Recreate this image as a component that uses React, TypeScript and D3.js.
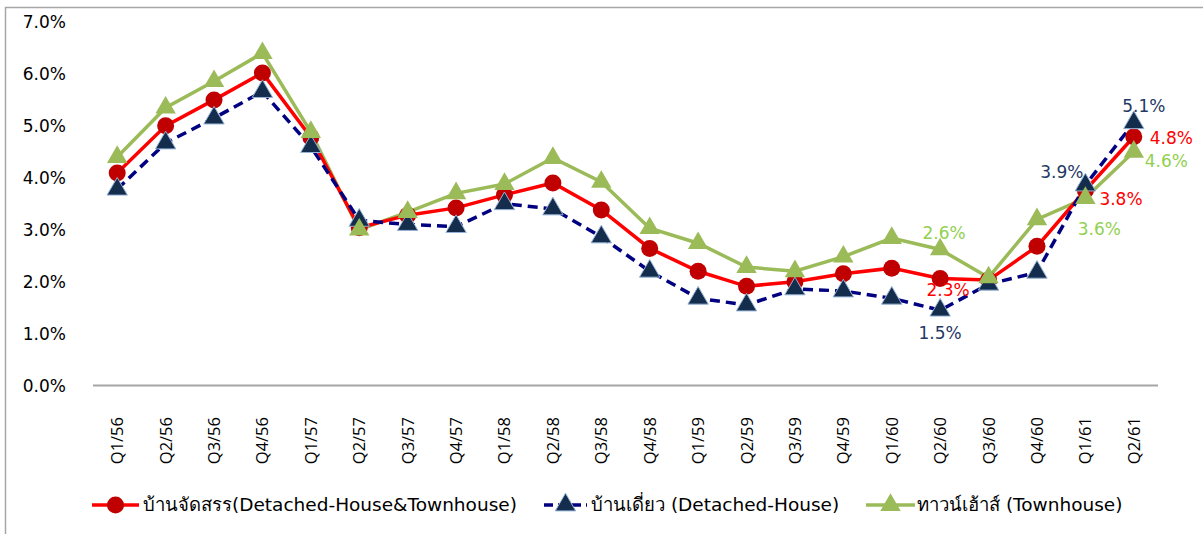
import * as d3 from "d3";
import { useEffect, useRef } from "react";

// quarters (Thai Buddhist year)
const quarters = [
  "Q1/56", "Q2/56", "Q3/56", "Q4/56",
  "Q1/57", "Q2/57", "Q3/57", "Q4/57",
  "Q1/58", "Q2/58", "Q3/58", "Q4/58",
  "Q1/59", "Q2/59", "Q3/59", "Q4/59",
  "Q1/60", "Q2/60", "Q3/60", "Q4/60",
  "Q1/61", "Q2/61",
];

// บ้านจัดสรร (all)
const allHousing = [
  4.09, 5.0, 5.5, 6.02, 4.78, 3.04, 3.28, 3.42, 3.67, 3.9, 3.38,
  2.64, 2.2, 1.91, 2.0, 2.15, 2.26, 2.06, 2.03, 2.68, 3.76, 4.79,
];
// บ้านเดี่ยว
const detached = [
  3.78, 4.67, 5.15, 5.66, 4.6, 3.18, 3.1, 3.06, 3.5, 3.4, 2.86,
  2.2, 1.68, 1.55, 1.86, 1.82, 1.68, 1.45, 1.95, 2.18, 3.86, 5.06,
];
// ทาวน์เฮ้าส์
const townhouse = [
  4.4, 5.35, 5.86, 6.4, 4.88, 3.0, 3.34, 3.7, 3.88, 4.38, 3.92,
  3.03, 2.74, 2.28, 2.2, 2.48, 2.84, 2.62, 2.08, 3.2, 3.61, 4.5,
];

const yTicks = [0, 1, 2, 3, 4, 5, 6, 7];

const seriesNames = [
  "บ้านจัดสรร(Detached-House&Townhouse)",
  "บ้านเดี่ยว (Detached-House)",
  "ทาวน์เฮ้าส์ (Townhouse)",
];

// data labels shown on the chart: [series, quarter index, text]
const dataLabels: [number, number, string][] = [
  [1, 21, "5.1%"],
  [0, 21, "4.8%"],
  [2, 21, "4.6%"],
  [1, 20, "3.9%"],
  [0, 20, "3.8%"],
  [2, 20, "3.6%"],
  [2, 17, "2.6%"],
  [0, 17, "2.3%"],
  [1, 17, "1.5%"],
];

export default function App() {
  const ref = useRef<SVGSVGElement | null>(null);

  useEffect(() => {
    const svg = d3.select(ref.current);
    svg.selectAll("*").remove();
    const font = "Tahoma, 'DejaVu Sans', sans-serif";

    // chart frame
    svg
      .append("rect")
      .attr("x", 5.5)
      .attr("y", 7.5)
      .attr("width", 1300)
      .attr("height", 600)
      .attr("fill", "white")
      .attr("stroke", "#a6a6a6")
      .attr("stroke-width", 1.5);

    const x = d3.scaleBand().domain(quarters).range([93, 1158]);
    const y = d3.scaleLinear().domain([0, 7]).range([385.5, 22]);
    const cx = (i: number) => x(quarters[i])! + x.bandwidth() / 2;

    // y axis labels
    svg
      .append("g")
      .selectAll("text")
      .data(yTicks)
      .join("text")
      .attr("x", 66)
      .attr("y", (d) => y(d) + 6)
      .attr("text-anchor", "end")
      .attr("font-family", font)
      .attr("font-size", 17)
      .attr("fill", "#000")
      .text((d) => d.toFixed(1) + "%");

    // x axis
    svg
      .append("line")
      .attr("x1", 93)
      .attr("x2", 1158)
      .attr("y1", 385.5)
      .attr("y2", 385.5)
      .attr("stroke", "#a6a6a6")
      .attr("stroke-width", 2);

    svg
      .append("g")
      .selectAll("text")
      .data(quarters)
      .join("text")
      .attr("transform", (d, i) => `translate(${cx(i) + 6},417) rotate(-90)`)
      .attr("text-anchor", "end")
      .attr("font-family", "'Open Sans', 'DejaVu Sans', sans-serif")
      .attr("font-size", 16.5)
      .attr("fill", "#000")
      .text((d) => d);

    const line = d3
      .line<number>()
      .x((d, i) => cx(i))
      .y((d) => y(d));

    const tri = d3.symbol().type(d3.symbolTriangle).size(180);

    // townhouse (drawn first, underneath)
    svg
      .append("path")
      .datum(townhouse)
      .attr("fill", "none")
      .attr("stroke", "#9bbb59")
      .attr("stroke-width", 3.5)
      .attr("d", line);
    // all housing
    svg
      .append("path")
      .datum(allHousing)
      .attr("fill", "none")
      .attr("stroke", "#ff0000")
      .attr("stroke-width", 3.5)
      .attr("d", line);
    // detached
    svg
      .append("path")
      .datum(detached)
      .attr("fill", "none")
      .attr("stroke", "#000080")
      .attr("stroke-width", 3.5)
      .attr("stroke-dasharray", "10,6")
      .attr("d", line);

    svg
      .append("g")
      .selectAll("circle")
      .data(allHousing)
      .join("circle")
      .attr("cx", (d, i) => cx(i))
      .attr("cy", (d) => y(d))
      .attr("r", 8.5)
      .attr("fill", "#c00000");

    svg
      .append("g")
      .selectAll("path")
      .data(detached)
      .join("path")
      .attr("transform", (d, i) => `translate(${cx(i)},${y(d)})`)
      .attr("d", tri)
      .attr("fill", "#142d4c")
      .attr("stroke", "#95b3d7")
      .attr("stroke-width", 1);

    svg
      .append("g")
      .selectAll("path")
      .data(townhouse)
      .join("path")
      .attr("transform", (d, i) => `translate(${cx(i)},${y(d)})`)
      .attr("d", tri)
      .attr("fill", "#9bbb59");

    // data labels
    const series = [allHousing, detached, townhouse];
    const labelColor = ["#ff0000", "#1f3864", "#92d050"];
    const labelPos: Record<string, [number, number, string]> = {
      "1-21": [10, -11, "middle"],
      "0-21": [16, 7, "start"],
      "2-21": [11, 15, "start"],
      "1-20": [-2, -7, "end"],
      "0-20": [14, 15, "start"],
      "2-20": [14, 37, "middle"],
      "2-17": [4, -10, "middle"],
      "0-17": [8, 17, "middle"],
      "1-17": [0, 29, "middle"],
    };
    svg
      .append("g")
      .selectAll("text")
      .data(dataLabels)
      .join("text")
      .attr("x", ([s, i]) => cx(i) + labelPos[`${s}-${i}`][0])
      .attr("y", ([s, i]) => y(series[s][i]) + labelPos[`${s}-${i}`][1])
      .attr("text-anchor", ([s, i]) => labelPos[`${s}-${i}`][2])
      .attr("font-family", font)
      .attr("font-size", 17)
      .attr("fill", ([s]) => labelColor[s])
      .text(([, , t]) => t);

    // legend
    const legendY = 505;
    const legend = [
      { x1: 92, x2: 139, text: 143, color: "#ff0000", dash: null, mark: "circle" },
      { x1: 544, x2: 587, text: 591, color: "#000080", dash: "9,5", mark: "navy" },
      { x1: 866, x2: 915, text: 917, color: "#9bbb59", dash: null, mark: "green" },
    ];
    legend.forEach((l, k) => {
      svg
        .append("line")
        .attr("x1", l.x1)
        .attr("x2", l.x2)
        .attr("y1", legendY)
        .attr("y2", legendY)
        .attr("stroke", l.color)
        .attr("stroke-width", 3.5)
        .attr("stroke-dasharray", l.dash);
      const mx = (l.x1 + l.x2) / 2;
      if (l.mark === "circle") {
        svg.append("circle").attr("cx", mx).attr("cy", legendY).attr("r", 8.5).attr("fill", "#c00000");
      } else {
        svg
          .append("path")
          .attr("transform", `translate(${mx},${legendY})`)
          .attr("d", tri)
          .attr("fill", l.mark === "navy" ? "#142d4c" : "#9bbb59")
          .attr("stroke", l.mark === "navy" ? "#95b3d7" : "none");
      }
      svg
        .append("text")
        .attr("x", l.text)
        .attr("y", legendY + 6)
        .attr("font-family", "'DejaVu Sans', sans-serif")
        .attr("font-size", 18.5)
        .attr("fill", "#000")
        .text(seriesNames[k]);
    });
  }, []);

  return (
    <svg
      ref={ref}
      width={1203}
      height={534}
      style={{ position: "absolute", left: 0, top: 0, background: "white" }}
    />
  );
}
